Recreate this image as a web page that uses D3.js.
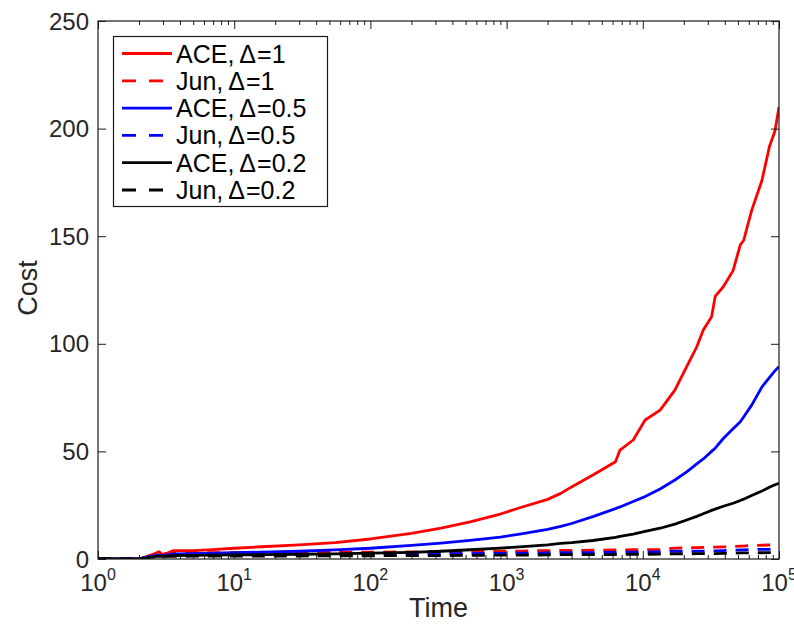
<!DOCTYPE html>
<html>
<head>
<meta charset="utf-8">
<script src="https://cdn.jsdelivr.net/npm/d3@7"></script>
<style>
  html, body { margin: 0; padding: 0; background: #fff; }
  svg { display: block; font-family: "Liberation Sans", Arial, Helvetica, sans-serif; }
</style>
</head>
<body>
<svg id="chart" width="794" height="628"></svg>
<script>
// Sample times (shared by every series)
const times = [1, 2, 2.2, 2.5, 2.8, 3, 3.6, 5, 7, 10, 16, 30, 55, 100, 200, 330, 540, 900,
  1250, 2000, 2500, 3000, 4300, 6300, 6800, 8500, 10400, 13400, 17200, 21000, 24900,
  27800, 32000, 34000, 39000, 46000, 52000, 55000, 63000, 75000, 85000, 93500, 100000];

// Accumulated cost per series
const aceD1 = [0, 0, 0.8, 2.0, 3.4, 1.9, 3.9, 3.9, 4.4, 5.0, 5.7, 6.6, 7.6, 9.3, 11.9, 14.3, 17.3, 20.9,
  23.8, 27.7, 30.5, 33.5, 39.0, 45.2, 50.6, 55.3, 64.6, 69.2, 78.5, 89.4, 98.6,
  106.4, 112.6, 122.0, 126.5, 134.0, 146.0, 148.0, 162.0, 176.0, 191.6, 199.0, 210.0];
const junD1 = [0, 0, 0.8, 1.8, 2.4, 2.4, 2.9, 3.0, 3.0, 3.0, 3.0, 3.1, 3.1, 3.2, 3.3, 3.4, 3.5, 3.6,
  3.7, 3.9, 4.0, 4.0, 4.1, 4.2, 4.2, 4.3, 4.3, 4.5, 5.1, 5.2, 5.3,
  5.4, 5.5, 5.5, 5.6, 5.8, 6.0, 6.0, 6.3, 6.4, 6.5, 6.6, 6.6];
const aceD05 = [0, 0, 0.6, 1.3, 1.8, 1.5, 2.4, 2.5, 2.7, 2.9, 3.2, 3.6, 4.2, 5.0, 6.3, 7.4, 8.7, 10.2,
  11.6, 13.8, 15.2, 16.5, 19.7, 23.4, 24.2, 26.7, 29.0, 32.5, 36.7, 40.5, 44.2,
  46.5, 50.0, 51.5, 56.0, 60.5, 63.8, 66.0, 71.5, 80.0, 84.3, 87.5, 89.4];
const junD05 = [0, 0, 0.6, 1.3, 1.8, 1.8, 1.9, 2.0, 2.0, 2.0, 2.1, 2.1, 2.2, 2.3, 2.4, 2.4, 2.5, 2.6,
  2.7, 2.8, 2.9, 2.9, 3.0, 3.1, 3.1, 3.2, 3.2, 3.4, 3.6, 3.6, 3.7,
  3.7, 3.8, 3.8, 3.9, 4.1, 4.2, 4.2, 4.4, 4.5, 4.5, 4.6, 4.6];
const aceD02 = [0, 0, 0.4, 1.0, 1.3, 1.2, 1.6, 1.7, 1.8, 1.9, 2.0, 2.2, 2.4, 2.7, 3.1, 3.6, 4.3, 5.1,
  5.6, 6.6, 7.3, 7.6, 8.6, 10.0, 10.5, 11.6, 12.8, 14.3, 16.2, 18.1, 19.8,
  21.0, 22.6, 23.2, 24.5, 25.9, 27.2, 27.8, 29.5, 31.6, 33.3, 34.5, 35.2];
const junD02 = [0, 0, 0.4, 0.9, 1.2, 1.2, 1.2, 1.3, 1.3, 1.3, 1.4, 1.4, 1.5, 1.5, 1.6, 1.6, 1.7, 1.8,
  1.8, 1.9, 2.0, 2.0, 2.0, 2.1, 2.1, 2.2, 2.2, 2.3, 2.4, 2.4, 2.5,
  2.5, 2.5, 2.5, 2.6, 2.7, 2.8, 2.8, 2.9, 2.9, 3.0, 3.0, 3.0];

// Legend entries: method name and step size
const seriesMethods = ["ACE", "Jun", "ACE", "Jun", "ACE", "Jun"];
const seriesDeltas = ["1", "1", "0.5", "0.5", "0.2", "0.2"];
const seriesValues = [aceD1, junD1, aceD05, junD05, aceD02, junD02];
const seriesColors = ["#ff0000", "#ff0000", "#0000ff", "#0000ff", "#000000", "#000000"];
const seriesDashed = [false, true, false, true, false, true];

const yTicks = [0, 50, 100, 150, 200, 250];
const xTickExps = [0, 1, 2, 3, 4, 5];

const svg = d3.select("#chart");
const box = { left: 98, right: 779, top: 21, bottom: 559 };

const x = d3.scaleLog().domain([1, 1e5]).range([box.left, box.right]);
const y = d3.scaleLinear().domain([0, 250]).range([box.bottom, box.top]);

const axisColor = "#1a1a1a";

// Clip for the data lines
svg.append("defs").append("clipPath").attr("id", "plotClip")
  .append("rect")
  .attr("x", box.left).attr("y", box.top)
  .attr("width", box.right - box.left).attr("height", box.bottom - box.top);

// Lines
const line = d3.line()
  .x((d, i) => x(times[i]))
  .y(d => y(d));

const lines = svg.append("g").attr("clip-path", "url(#plotClip)");
seriesValues.forEach((vals, k) => {
  lines.append("path")
    .datum(vals)
    .attr("d", line)
    .attr("fill", "none")
    .attr("stroke", seriesColors[k])
    .attr("stroke-width", 2.8)
    .attr("stroke-linejoin", "round")
    .attr("stroke-dasharray", seriesDashed[k] ? "13,9" : null);
});

// Axes: ticks point inward on all four sides
const majorX = xTickExps.map(e => Math.pow(10, e));
const minorX = [];
for (let e = 0; e < 5; e++) for (let m = 2; m <= 9; m++) minorX.push(m * Math.pow(10, e));

function styleAxis(g) {
  g.select(".domain").remove();
  g.selectAll(".tick line").attr("stroke", axisColor).attr("stroke-width", 1);
  g.selectAll(".tick text").remove();
}

svg.append("g").attr("transform", `translate(0,${box.bottom})`)
  .call(d3.axisBottom(x).tickValues(majorX).tickSize(-8)).call(styleAxis);
svg.append("g").attr("transform", `translate(0,${box.bottom})`)
  .call(d3.axisBottom(x).tickValues(minorX).tickSize(-4)).call(styleAxis);
svg.append("g").attr("transform", `translate(0,${box.top})`)
  .call(d3.axisTop(x).tickValues(majorX).tickSize(-8)).call(styleAxis);
svg.append("g").attr("transform", `translate(0,${box.top})`)
  .call(d3.axisTop(x).tickValues(minorX).tickSize(-4)).call(styleAxis);
svg.append("g").attr("transform", `translate(${box.left},0)`)
  .call(d3.axisLeft(y).tickValues(yTicks).tickSize(-8)).call(styleAxis);
svg.append("g").attr("transform", `translate(${box.right},0)`)
  .call(d3.axisRight(y).tickValues(yTicks).tickSize(-8)).call(styleAxis);

// Frame
svg.append("rect")
  .attr("x", box.left).attr("y", box.top)
  .attr("width", box.right - box.left).attr("height", box.bottom - box.top)
  .attr("fill", "none").attr("stroke", axisColor).attr("stroke-width", 1.2);

// Y tick labels
svg.append("g").selectAll("text").data(yTicks).join("text")
  .attr("x", box.left - 9)
  .attr("y", d => y(d))
  .attr("dy", "0.36em")
  .attr("text-anchor", "end")
  .attr("font-size", 24)
  .attr("fill", "#262626")
  .text(d => d);

// X tick labels (powers of ten)
const xl = svg.append("g").selectAll("text").data(xTickExps).join("text")
  .attr("x", d => x(Math.pow(10, d)))
  .attr("y", box.bottom + 32)
  .attr("text-anchor", "middle")
  .attr("font-size", 24)
  .attr("fill", "#262626");
xl.append("tspan").text("10");
xl.append("tspan").attr("dy", -11).attr("font-size", 16).text(d => d);

// Axis titles
svg.append("text")
  .attr("x", (box.left + box.right) / 2)
  .attr("y", 617)
  .attr("text-anchor", "middle")
  .attr("font-size", 27)
  .attr("fill", "#262626")
  .text("Time");

svg.append("text")
  .attr("transform", `translate(37,${(box.top + box.bottom) / 2 - 2}) rotate(-90)`)
  .attr("text-anchor", "middle")
  .attr("font-size", 27)
  .attr("fill", "#262626")
  .text("Cost");

// Legend
const lg = svg.append("g");
lg.append("rect")
  .attr("x", 113.5).attr("y", 36.5).attr("width", 214).attr("height", 170)
  .attr("fill", "#fff").attr("stroke", axisColor).attr("stroke-width", 1.2);
seriesMethods.forEach((name, k) => {
  const cy = 53.5 + k * 27.3;
  lg.append("line")
    .attr("x1", 122).attr("x2", 172).attr("y1", cy).attr("y2", cy)
    .attr("stroke", seriesColors[k]).attr("stroke-width", 2.8)
    .attr("stroke-dasharray", seriesDashed[k] ? "14,13" : null);
  const t = lg.append("text")
    .attr("x", 176).attr("y", cy).attr("dy", "0.36em")
    .attr("font-size", 25)
    .attr("fill", "#000");
  t.append("tspan").text(name + ",");
  t.append("tspan").attr("dx", 5).text("\u0394");
  t.append("tspan").attr("dx", 1).text("=" + seriesDeltas[k]);
});
</script>
</body>
</html>
